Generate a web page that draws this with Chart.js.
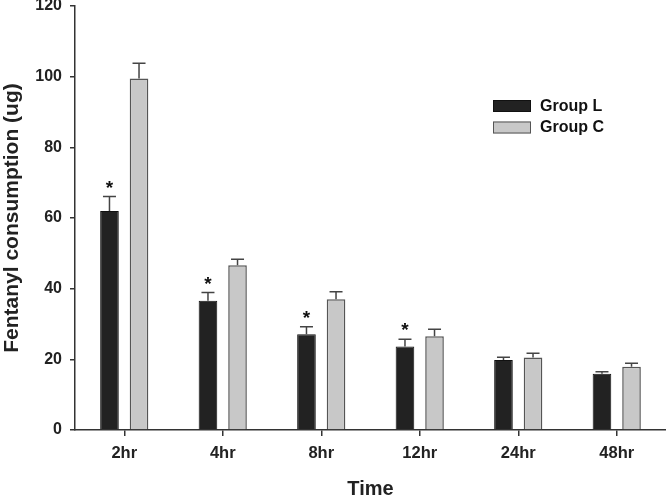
<!DOCTYPE html>
<html><head><meta charset="utf-8">
<script src="https://cdn.jsdelivr.net/npm/chart.js@4/dist/chart.umd.min.js"></script>
<style>html,body{margin:0;padding:0;background:#fff}</style>
</head><body>
<canvas id="c" width="666" height="497" style="display:block;width:666px;height:497px"></canvas>
<script>
const categories = ['2hr', '4hr', '8hr', '12hr', '24hr', '48hr'];
const groupL = [62.0, 36.6, 27.1, 23.6, 19.8, 15.9];
const groupLErr = [4.1, 2.3, 2.1, 2.1, 0.8, 0.6];
const groupC = [99.5, 46.6, 37.0, 26.5, 20.5, 17.9];
const groupCErr = [4.3, 1.7, 2.1, 2.0, 1.2, 1.0];
const significantL = [true, true, true, true, false, false];
const yTickValues = [0, 20, 40, 60, 80, 100, 120];
const seriesNames = ['Group L', 'Group C'];

const FONT = '"Liberation Sans", Arial, sans-serif';

const errPlugin = {
  id: 'errbars',
  afterDatasetsDraw(chart) {
    const ctx = chart.ctx;
    const y = chart.scales.y;
    const errs = [groupLErr, groupCErr];
    ctx.save();
    chart.data.datasets.forEach((ds, di) => {
      const meta = chart.getDatasetMeta(di);
      meta.data.forEach((bar, i) => {
        const top = y.getPixelForValue(ds.data[i] + errs[di][i]);
        ctx.strokeStyle = '#444';
        ctx.lineWidth = 1.5;
        ctx.beginPath();
        ctx.moveTo(bar.x, bar.y);
        ctx.lineTo(bar.x, top);
        ctx.moveTo(bar.x - 6.5, top);
        ctx.lineTo(bar.x + 6.5, top);
        ctx.stroke();
        if (di === 0 && significantL[i]) {
          ctx.fillStyle = '#111';
          ctx.font = 'bold 19px ' + FONT;
          ctx.textAlign = 'center';
          ctx.textBaseline = 'middle';
          ctx.fillText('*', bar.x, top - 8);
        }
      });
    });
    // legend
    const lx = 493, ly = [100, 121.5];
    chart.data.datasets.forEach((ds, di) => {
      ctx.fillStyle = ds.backgroundColor;
      ctx.fillRect(lx, ly[di], 38, 12);
      ctx.strokeStyle = ds.borderColor;
      ctx.lineWidth = 1;
      ctx.strokeRect(lx + 0.5, ly[di] + 0.5, 37, 11);
      ctx.fillStyle = '#111';
      ctx.font = 'bold 16px ' + FONT;
      ctx.textAlign = 'left';
      ctx.textBaseline = 'middle';
      ctx.fillText(ds.label, 540, ly[di] + 6.5);
    });
    ctx.restore();
  }
};

new Chart(document.getElementById('c'), {
  type: 'bar',
  data: {
    labels: categories,
    datasets: [
      { label: seriesNames[0], data: groupL, backgroundColor: '#222222', borderColor: '#111111', borderWidth: 1 },
      { label: seriesNames[1], data: groupC, backgroundColor: '#c8c8c8', borderColor: '#555555', borderWidth: 1.5 }
    ]
  },
  options: {
    responsive: false,
    animation: false,
    devicePixelRatio: 1,
    categoryPercentage: 0.6,
    barPercentage: 0.63,
    layout: { padding: { top: 6, right: 0, left: 0, bottom: 0 } },
    plugins: { legend: { display: false }, tooltip: { enabled: false } },
    scales: {
      x: {
        grid: { display: true, offset: false, drawOnChartArea: false, drawTicks: true, tickLength: 6, color: '#333', lineWidth: 1.5 },
        border: { display: true, color: '#333', width: 1.5 },
        ticks: { color: '#222', font: { family: FONT, size: 16.5, weight: 'bold' }, padding: 8, maxRotation: 0 },
        title: { display: true, text: 'Time', color: '#222', font: { family: FONT, size: 20, weight: 'bold', lineHeight: 0.8 }, padding: { top: 0, bottom: 0 } },
        afterFit(s) { s.height = 67; s.paddingLeft = 0; s.paddingRight = 0; }
      },
      y: {
        min: 0, max: 120,
        afterBuildTicks(s) { s.ticks = yTickValues.map(v => ({ value: v })); },
        grid: { display: true, drawOnChartArea: false, drawTicks: true, tickLength: 5, color: '#333', lineWidth: 1.5 },
        border: { display: true, color: '#333', width: 1.5 },
        ticks: { color: '#222', font: { family: FONT, size: 16, weight: 'bold' }, padding: 8 },
        title: { display: true, text: 'Fentanyl consumption (ug)', color: '#222', font: { family: FONT, size: 21, weight: 'bold' }, padding: { top: 0, bottom: 0 } },
        afterFit(s) { s.width = 75; s.paddingTop = 0; s.paddingBottom = 0; }
      }
    }
  },
  plugins: [errPlugin]
});
</script>
</body></html>
